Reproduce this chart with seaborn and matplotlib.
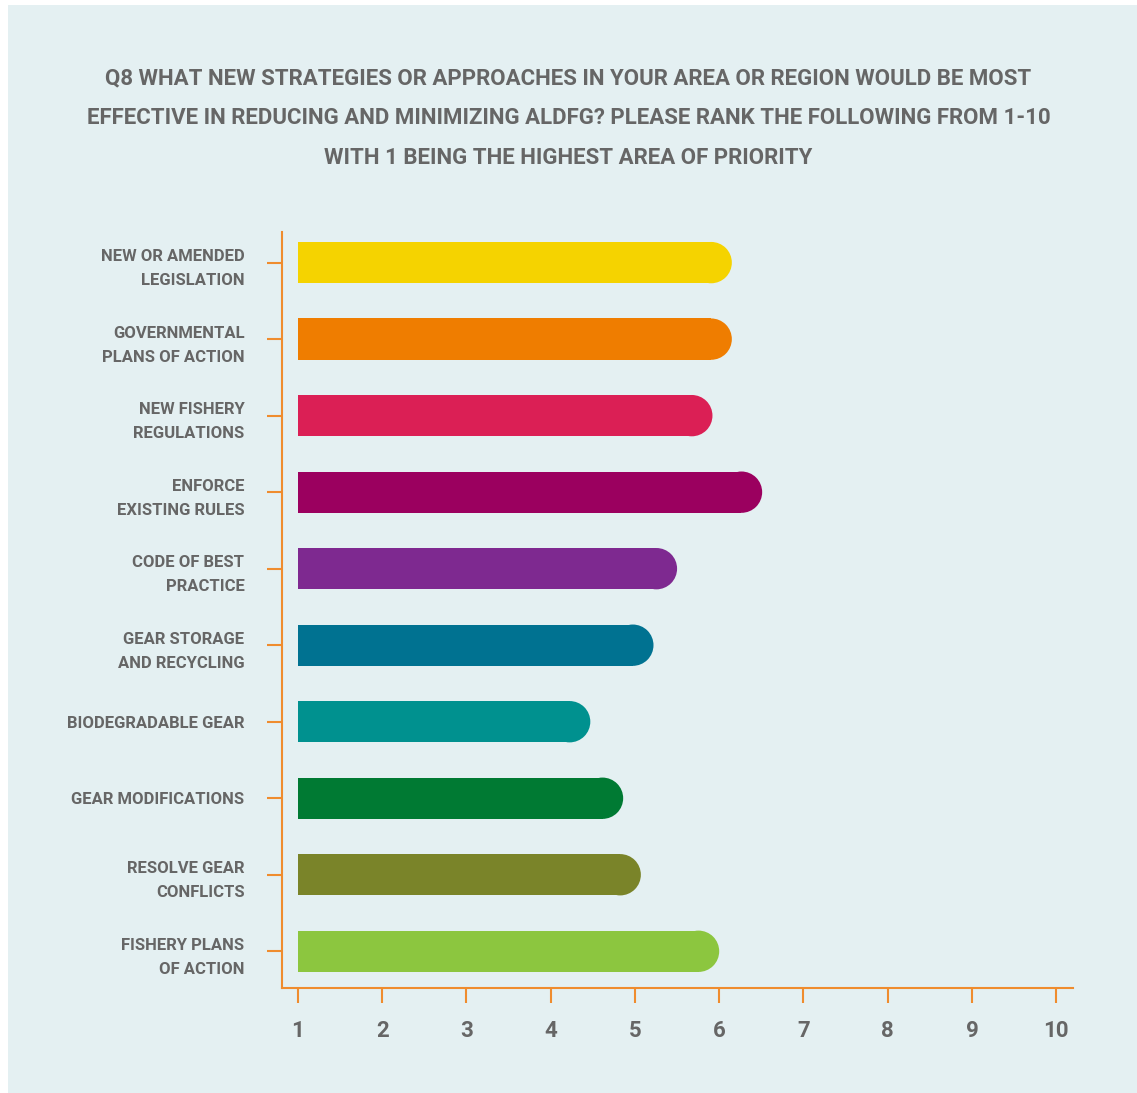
import matplotlib
matplotlib.use("Agg")
import matplotlib.pyplot as plt
import matplotlib.patches as mpatches
import pandas as pd
import seaborn as sns

# Data (average rank, 1 = highest priority)
categories = ["NEW OR AMENDED\nLEGISLATION", "GOVERNMENTAL\nPLANS OF ACTION", "NEW FISHERY\nREGULATIONS",
              "ENFORCE\nEXISTING RULES", "CODE OF BEST\nPRACTICE", "GEAR STORAGE\nAND RECYCLING",
              "BIODEGRADABLE GEAR", "GEAR MODIFICATIONS", "RESOLVE GEAR\nCONFLICTS", "FISHERY PLANS\nOF ACTION"]
scores = [6.15, 6.15, 5.92, 6.51, 5.50, 5.22, 4.47, 4.86, 5.07, 6.00]
colors = ["#F5D300", "#EF7D00", "#DB1F55", "#9B005F", "#7E2990",
          "#007291", "#00918F", "#007A33", "#7A8429", "#8CC63F"]
x_ticks = [1, 2, 3, 4, 5, 6, 7, 8, 9, 10]

title = ("Q8 WHAT NEW STRATEGIES OR APPROACHES IN YOUR AREA OR REGION WOULD BE MOST\n"
         "EFFECTIVE IN REDUCING AND MINIMIZING ALDFG? PLEASE RANK THE FOLLOWING FROM 1-10\n"
         "WITH 1 BEING THE HIGHEST AREA OF PRIORITY")

bg = "#E4F0F2"
axis_col = "#EF8C2E"
text_col = "#666666"
fonts = ["Roboto", "Liberation Sans", "DejaVu Sans"]

sns.set_style("white")
plt.rcParams["font.family"] = fonts

df = pd.DataFrame({"item": categories, "score": scores})
# bars start at rank 1
df["length"] = df["score"] - 1

fig = plt.figure(figsize=(11.37, 10.93), dpi=100, facecolor="white")
fig.patches.append(mpatches.Rectangle((8 / 1137, 0), 1, 1 - 5 / 1093, transform=fig.transFigure,
                                      facecolor=bg, edgecolor="none", zorder=-10))

ax = fig.add_axes([282 / 1137, 1 - 988 / 1093, (1073 - 282) / 1137, (988 - 232) / 1093])
ax.patch.set_alpha(0)

sns.barplot(data=df, y="item", x="length", hue="item", palette=colors, legend=False,
            orient="h", width=0.54, left=1, saturation=1, ax=ax)

ax.set_xlim(0.81, 10.2)
ax.set_ylim(9.48, -0.4)

# round off the right end of each bar
fig.canvas.draw()
px_per_x = ax.transData.transform((2, 0))[0] - ax.transData.transform((1, 0))[0]
px_per_y = abs(ax.transData.transform((0, 1))[1] - ax.transData.transform((0, 0))[1])
for p in list(ax.patches):
    x0, y0, w, h = p.get_x(), p.get_y(), p.get_width(), p.get_height()
    r_x = (h * px_per_y / 2) / px_per_x
    p.set_width(w - r_x)
    p.set_edgecolor("none")
    ax.add_patch(mpatches.Ellipse((x0 + w - r_x, y0 + h / 2), 2 * r_x, h,
                                  facecolor=p.get_facecolor(), edgecolor="none"))

sns.despine(ax=ax)
for side in ["left", "bottom"]:
    ax.spines[side].set_color(axis_col)
    ax.spines[side].set_linewidth(1.5)

ax.set_xticks(x_ticks)
ax.set_xticklabels([str(t) for t in x_ticks], fontsize=16, fontweight="bold", color=text_col)
ax.set_yticks(range(len(categories)))
ax.set_yticklabels(categories, fontsize=12, fontweight="bold", color=text_col, linespacing=1.75)
ax.tick_params(axis="x", bottom=True, length=11, width=1.5, color=axis_col, pad=12, direction="out")
ax.tick_params(axis="y", left=True, length=11, width=1.5, color=axis_col, pad=16, direction="out")
ax.set_xlabel("")
ax.set_ylabel("")

fig.text(0.5, 1 - 118 / 1093, title, ha="center", va="center", fontsize=16, fontweight="bold",
         color=text_col, linespacing=2.05)

fig.savefig("out.png", dpi=100, facecolor="white")
